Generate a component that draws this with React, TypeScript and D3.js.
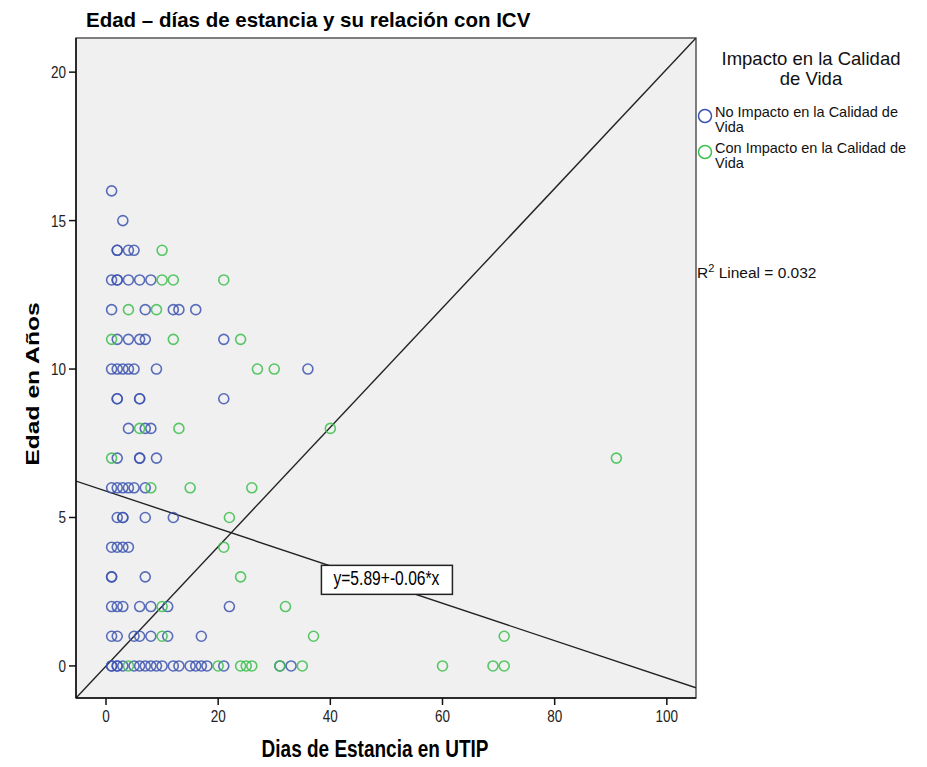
import React, { useEffect, useRef } from 'react';
import * as d3 from 'd3';

// [dias, edad]
const noImpacto: [number, number][] = [
  [1, 16], [3, 15],
  [2, 14], [2, 14], [4, 14], [5, 14],
  [1, 13], [2, 13], [2, 13], [4, 13], [6, 13], [8, 13],
  [1, 12], [7, 12], [12, 12], [13, 12], [16, 12],
  [2, 11], [4, 11], [6, 11], [7, 11], [21, 11],
  [1, 10], [2, 10], [3, 10], [4, 10], [5, 10], [9, 10], [36, 10],
  [2, 9], [2, 9], [6, 9], [6, 9], [21, 9],
  [4, 8], [7, 8], [8, 8],
  [2, 7], [6, 7], [6, 7], [9, 7],
  [1, 6], [2, 6], [3, 6], [4, 6], [5, 6], [7, 6],
  [2, 5], [3, 5], [3, 5], [7, 5], [12, 5],
  [1, 4], [2, 4], [3, 4], [4, 4],
  [1, 3], [1, 3], [7, 3],
  [1, 2], [2, 2], [3, 2], [6, 2], [8, 2], [11, 2], [22, 2],
  [1, 1], [2, 1], [5, 1], [6, 1], [8, 1], [11, 1], [17, 1],
  [1, 0], [1, 0], [2, 0], [2, 0], [3, 0], [5, 0], [6, 0], [7, 0], [8, 0], [9, 0],
  [10, 0], [12, 0], [13, 0], [15, 0], [16, 0], [17, 0], [18, 0], [21, 0], [31, 0], [33, 0],
];

const conImpacto: [number, number][] = [
  [10, 14], [10, 13], [12, 13], [21, 13], [4, 12], [9, 12],
  [1, 11], [12, 11], [24, 11], [27, 10], [30, 10],
  [6, 8], [13, 8], [40, 8], [1, 7], [91, 7],
  [8, 6], [15, 6], [26, 6], [22, 5], [21, 4], [24, 3],
  [10, 2], [32, 2], [10, 1], [37, 1], [71, 1],
  [4, 0], [20, 0], [24, 0], [25, 0], [26, 0], [31, 0], [35, 0], [60, 0], [69, 0], [71, 0],
];

const xTicks = [0, 20, 40, 60, 80, 100];
const yTicks = [0, 5, 10, 15, 20];
const xDomain = [-5.35, 105.2];
const yDomain = [-1.08, 21.15];

// linea de ajuste
const intercepto = 5.89;
const pendiente = -0.063;
const etiquetaAjuste = 'y=5.89+-0.06*x';
const r2Texto = ' Lineal = 0.032';

const AZUL = '#3d55b0';
const VERDE = '#3cc04e';
const FONT = "'Liberation Sans', Arial, sans-serif";

const App = () => {
  const ref = useRef<SVGSVGElement>(null);

  useEffect(() => {
    const svg = d3.select(ref.current);
    svg.selectAll('*').remove();

    const left = 76, right = 696, top = 38, bottom = 698;
    const x = d3.scaleLinear().domain(xDomain).range([left, right]);
    const y = d3.scaleLinear().domain(yDomain).range([bottom, top]);

    // title
    svg.append('text')
      .attr('x', 86).attr('y', 27)
      .attr('font-family', FONT).attr('font-size', 20.5).attr('font-weight', 'bold')
      .text('Edad – días de estancia y su relación con ICV');

    svg.append('rect')
      .attr('x', left).attr('y', top)
      .attr('width', right - left).attr('height', bottom - top)
      .attr('fill', '#f0f0f0')
      .attr('stroke', '#555').attr('stroke-width', 1.5);

    svg.append('defs').append('clipPath').attr('id', 'plotclip')
      .append('rect')
      .attr('x', left).attr('y', top)
      .attr('width', right - left).attr('height', bottom - top);

    const plot = svg.append('g').attr('clip-path', 'url(#plotclip)');

    // diagonal de referencia
    plot.append('line')
      .attr('x1', x(xDomain[0])).attr('y1', y(yDomain[0]))
      .attr('x2', x(xDomain[1])).attr('y2', y(yDomain[1]))
      .attr('stroke', '#222').attr('stroke-width', 1.4);

    // ajuste lineal
    plot.append('line')
      .attr('x1', x(xDomain[0])).attr('y1', y(intercepto + pendiente * xDomain[0]))
      .attr('x2', x(xDomain[1])).attr('y2', y(intercepto + pendiente * xDomain[1]))
      .attr('stroke', '#222').attr('stroke-width', 1.4);

    const series = [
      { data: noImpacto, color: AZUL },
      { data: conImpacto, color: VERDE },
    ];
    series.forEach((s) => {
      plot.append('g')
        .selectAll('circle')
        .data(s.data)
        .enter()
        .append('circle')
        .attr('cx', (d) => x(d[0]))
        .attr('cy', (d) => y(d[1]))
        .attr('r', 5)
        .attr('fill', 'none')
        .attr('stroke', s.color)
        .attr('stroke-width', 1.6)
        .attr('stroke-opacity', 0.85);
    });

    // etiqueta de la recta
    const lx = x(50), ly = y(2.95);
    svg.append('rect')
      .attr('x', lx - 65).attr('y', ly - 13)
      .attr('width', 131).attr('height', 29)
      .attr('fill', 'white').attr('stroke', '#222').attr('stroke-width', 1.5);
    svg.append('text')
      .attr('transform', `translate(${lx},${ly + 7}) scale(0.92,1.2)`)
      .attr('text-anchor', 'middle')
      .attr('font-family', FONT).attr('font-size', 17)
      .text(etiquetaAjuste);

    // axes
    svg.append('line')
      .attr('x1', left).attr('x2', right).attr('y1', bottom).attr('y2', bottom)
      .attr('stroke', '#111').attr('stroke-width', 1.5);
    svg.append('line')
      .attr('x1', left).attr('x2', left).attr('y1', top).attr('y2', bottom)
      .attr('stroke', '#111').attr('stroke-width', 1.5);

    const xt = svg.append('g').selectAll('g').data(xTicks).enter().append('g');
    xt.append('line')
      .attr('x1', (d) => x(d)).attr('x2', (d) => x(d))
      .attr('y1', bottom).attr('y2', bottom + 7)
      .attr('stroke', '#111').attr('stroke-width', 1.5);
    xt.append('text')
      .attr('transform', (d) => `translate(${x(d)},${bottom + 24}) scale(1,1.25)`)
      .attr('text-anchor', 'middle')
      .attr('font-family', FONT).attr('font-size', 13.5).attr('fill', '#222')
      .text((d) => d);

    const yt = svg.append('g').selectAll('g').data(yTicks).enter().append('g');
    yt.append('line')
      .attr('x1', left - 7).attr('x2', left)
      .attr('y1', (d) => y(d)).attr('y2', (d) => y(d))
      .attr('stroke', '#111').attr('stroke-width', 1.5);
    yt.append('text')
      .attr('transform', (d) => `translate(${left - 10},${y(d) + 6}) scale(1,1.25)`)
      .attr('text-anchor', 'end')
      .attr('font-family', FONT).attr('font-size', 13.5).attr('fill', '#222')
      .text((d) => d);

    // axis titles
    svg.append('text')
      .attr('transform', `translate(375,757) scale(1,1.3)`)
      .attr('text-anchor', 'middle')
      .attr('font-family', FONT).attr('font-size', 19).attr('font-weight', 'bold')
      .text('Dias de Estancia en UTIP');
    svg.append('text')
      .attr('transform', `translate(39,384) rotate(-90) scale(1.3,1)`)
      .attr('text-anchor', 'middle')
      .attr('font-family', FONT).attr('font-size', 19).attr('font-weight', 'bold')
      .text('Edad en Años');

    // legend
    const lg = svg.append('g').attr('font-family', FONT).attr('fill', '#111');
    lg.append('text').attr('x', 811).attr('y', 65).attr('text-anchor', 'middle')
      .attr('font-size', 18.5).text('Impacto en la Calidad');
    lg.append('text').attr('x', 811).attr('y', 85).attr('text-anchor', 'middle')
      .attr('font-size', 18.5).text('de Vida');

    const items = [
      { lines: ['No Impacto en la Calidad de', 'Vida'], color: AZUL, cy: 116 },
      { lines: ['Con Impacto en la Calidad de', 'Vida'], color: VERDE, cy: 152 },
    ];
    items.forEach((it) => {
      lg.append('circle')
        .attr('cx', 705).attr('cy', it.cy).attr('r', 6.5)
        .attr('fill', 'none').attr('stroke', it.color).attr('stroke-width', 1.5);
      it.lines.forEach((l, i) => {
        lg.append('text')
          .attr('x', 715).attr('y', it.cy + 1 + i * 15)
          .attr('font-size', 14.5).text(l);
      });
    });

    const r2 = lg.append('text').attr('x', 697).attr('y', 278).attr('font-size', 15.5);
    r2.append('tspan').text('R');
    r2.append('tspan').attr('dy', -6).attr('font-size', 11).text('2');
    r2.append('tspan').attr('dy', 6).text(r2Texto);
  }, []);

  return (
    <svg
      ref={ref}
      width={927}
      height={767}
      style={{ position: 'absolute', left: 0, top: 0, background: 'white' }}
    />
  );
};

export default App;
